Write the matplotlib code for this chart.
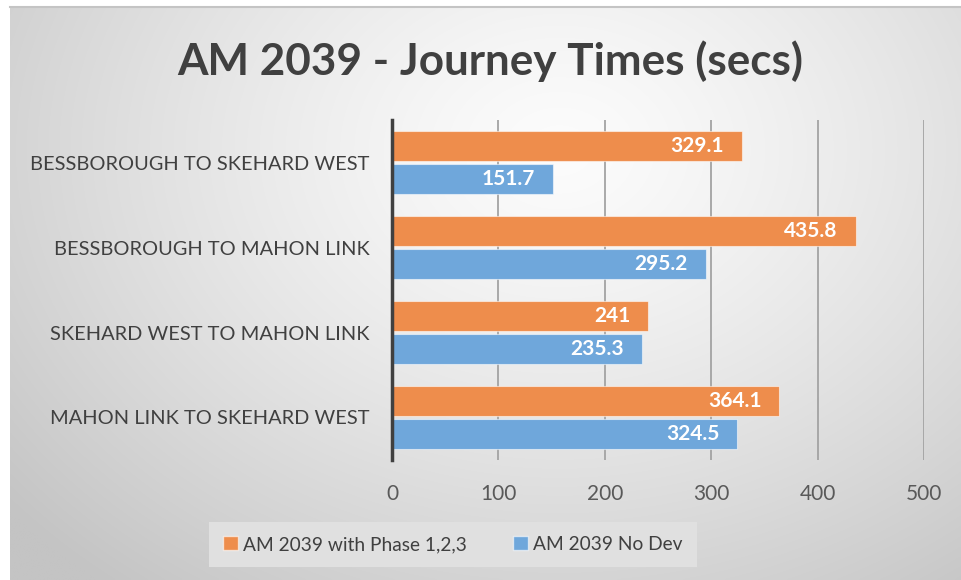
import numpy as np
import matplotlib
matplotlib.use("Agg")
import matplotlib.pyplot as plt
from matplotlib.patches import Patch

categories = ["BESSBOROUGH TO SKEHARD WEST", "BESSBOROUGH TO MAHON LINK",
              "SKEHARD WEST TO MAHON LINK", "MAHON LINK TO SKEHARD WEST"]
phase_vals = [329.1, 435.8, 241, 364.1]
nodev_vals = [151.7, 295.2, 235.3, 324.5]
series_names = ["AM 2039 with Phase 1,2,3", "AM 2039 No Dev"]
xticks = [0, 100, 200, 300, 400, 500]
title = "AM 2039 - Journey Times (secs)"

W, H = 961, 580
plt.rcParams['font.family'] = ['Lato', 'DejaVu Sans']
fig = plt.figure(figsize=(W/100, H/100), dpi=100)
fig.patch.set_facecolor('white')

# background radial gradient
bg = fig.add_axes([10/W, 0, (W-10)/W, (H-7)/H], zorder=-5)
xs = np.linspace(10, W, 400)
ys = np.linspace(7, H, 250)
X, Y = np.meshgrid(xs, ys)
d = np.sqrt(((X-560)/720)**2 + ((Y-150)/560)**2)
d = np.clip(d, 0, 1)
val = 252 - (252-196)*d**1.3
img = np.dstack([val, val, val])/255.0
bg.imshow(img, aspect='auto', extent=[0, 1, 0, 1], interpolation='bilinear')
bg.axis('off')
fig.add_artist(plt.Line2D([10/W, 1], [1-6.5/H, 1-6.5/H], color='#c4c4c4', lw=1.5))

ax = fig.add_axes([392/W, (H-460)/H, 532/W, 340/H])
ax.patch.set_alpha(0)
y = np.arange(len(categories))
h = 0.35
off = 0.19
orange = '#EE8D4C'
blue = '#6FA7DB'
b1 = ax.barh(y-off, phase_vals, height=h, color=orange, edgecolor=(1, 1, 1, 0.55), lw=0.8, zorder=3)
b2 = ax.barh(y+off, nodev_vals, height=h, color=blue, edgecolor=(1, 1, 1, 0.55), lw=0.8, zorder=3)
for bars, vals in ((b1, phase_vals), (b2, nodev_vals)):
    for rect, v in zip(bars, vals):
        ax.annotate(f"{v:g}", xy=(v, rect.get_y()+rect.get_height()/2), xytext=(-13, 0),
                    textcoords='offset points', ha='right', va='center',
                    color='white', fontweight='bold', fontsize=15, zorder=4)

ax.set_xlim(0, 500)
ax.set_ylim(3.5, -0.5)
ax.set_xticks(xticks)
ax.set_xticklabels([str(t) for t in xticks])
ax.set_yticks(y)
ax.set_yticklabels(categories)
ax.grid(axis='x', color='#a3a3a3', lw=1.3, zorder=0)
ax.tick_params(axis='x', length=0, pad=17, labelsize=15, labelcolor='#595959')
ax.tick_params(axis='y', length=0, pad=16, labelsize=14.4, labelcolor='#404040')
for s in ['top', 'right', 'bottom']:
    ax.spines[s].set_visible(False)
ax.spines['left'].set_color('#404040')
ax.spines['left'].set_linewidth(2.5)
ax.spines['left'].set_zorder(5)

fig.text(490/W, 1-61/H, title, ha='center', va='center', fontsize=31.7,
         fontweight='bold', color='#404040')

handles = [Patch(facecolor=orange, edgecolor=(1, 1, 1, 0.6)), Patch(facecolor=blue, edgecolor=(1, 1, 1, 0.6))]
leg = fig.legend(handles, series_names, loc='center', bbox_to_anchor=(453/W, 1-544.5/H),
                 ncol=2, frameon=True, fontsize=13.8, handlelength=0.75, handleheight=0.75,
                 handletextpad=0.3, columnspacing=2.4, borderpad=0.75, borderaxespad=0,
                 fancybox=False)
leg.get_frame().set_facecolor('#e0e0e0')
leg.get_frame().set_edgecolor('none')
leg.get_frame().set_alpha(1)
for t in leg.get_texts():
    t.set_color('#404040')

fig.savefig('out.png', dpi=100)
